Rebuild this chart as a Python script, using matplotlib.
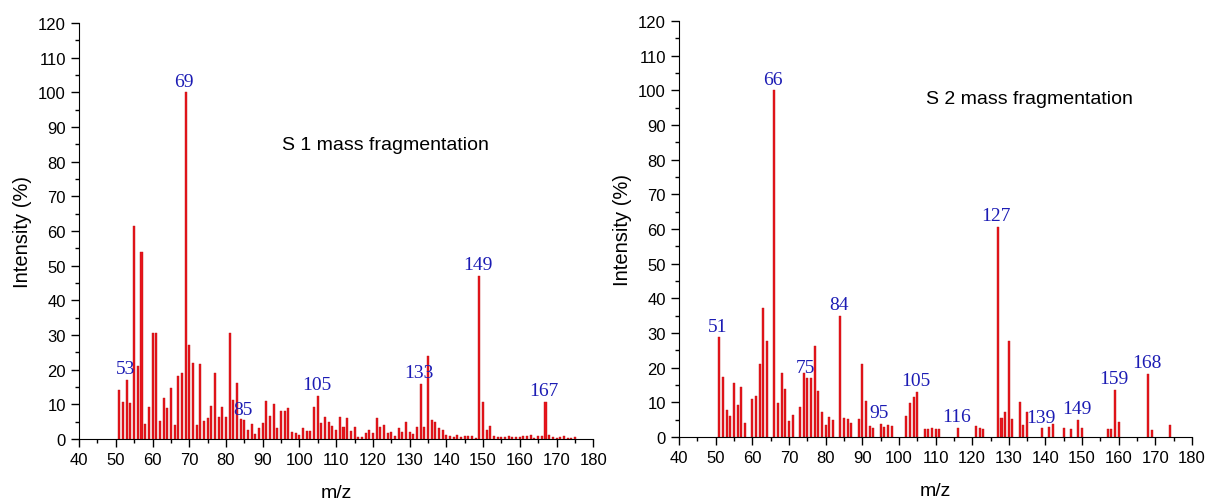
import numpy as np
import matplotlib
matplotlib.use('Agg')
import matplotlib.pyplot as plt
from matplotlib.ticker import MultipleLocator

# S 1 spectrum: m/z 51..175, relative intensity (%)
s1_mz = list(range(51, 176))
s1_int = [14.1, 10.6, 17.0, 10.5, 61.5, 21.2, 54.0, 4.4, 9.1, 30.6,
          30.6, 5.1, 11.9, 8.9, 14.6, 3.9, 18.3, 18.9, 100.0, 27.2,
          21.9, 4.0, 21.5, 5.1, 6.0, 9.4, 19.0, 6.4, 9.1, 6.4,
          30.5, 11.2, 16.2, 5.8, 5.4, 2.5, 4.2, 1.5, 3.1, 4.5,
          11.0, 6.7, 10.2, 3.3, 8.0, 8.0, 8.8, 1.9, 1.7, 1.2,
          3.1, 2.2, 2.2, 9.1, 12.5, 4.5, 6.3, 5.0, 3.7, 2.7,
          6.3, 3.6, 6.1, 2.2, 3.6, 0.6, 0.7, 1.7, 2.5, 1.8,
          6.2, 3.5, 4.0, 1.6, 2.0, 1.0, 3.2, 2.1, 4.8, 1.9,
          1.3, 3.4, 15.9, 3.4, 24.0, 5.6, 4.8, 3.2, 2.6, 1.2,
          0.8, 0.7, 1.2, 0.5, 0.8, 1.0, 0.8, 0.2, 47.0, 10.8,
          2.6, 3.7, 0.8, 0.5, 0.5, 0.5, 1.0, 0.5, 0.5, 0.7,
          0.8, 0.9, 1.2, 0.2, 1.0, 0.8, 10.8, 1.2, 0.5, 0.2,
          0.5, 0.8, 0.4, 0.2, 0.5]
s1_labels = [53, 69, 85, 105, 133, 149, 167]

# S 2 spectrum
s2_mz = [51, 52, 53, 54, 55, 56, 57, 58, 60, 61, 62, 63, 64, 66, 67, 68, 69, 70, 71,
         73, 74, 75, 76, 77, 78, 79, 80, 81, 82, 84, 85, 86, 87, 89, 90, 91, 92, 93,
         95, 96, 97, 98, 102, 103, 104, 105, 107, 108, 109, 110, 111, 116, 121, 122,
         123, 127, 128, 129, 130, 131, 133, 134, 135, 139, 141, 142, 145, 147, 149,
         150, 157, 158, 159, 160, 168, 169, 174]
s2_int = [28.7, 17.2, 7.9, 6.2, 15.5, 9.2, 14.4, 3.9, 10.9, 11.8, 21.0, 37.3, 27.8,
          100.0, 9.7, 18.5, 13.8, 4.5, 6.4, 8.7, 18.4, 16.9, 17.1, 26.3, 13.2, 7.1,
          3.4, 5.8, 4.9, 35.0, 5.4, 5.2, 4.1, 5.1, 21.0, 10.3, 3.1, 2.5, 3.8, 3.0,
          3.4, 3.2, 6.0, 9.7, 11.6, 12.9, 2.2, 2.2, 2.5, 2.2, 2.2, 2.6, 3.2, 2.7,
          2.3, 60.5, 5.5, 7.2, 27.8, 5.2, 10.0, 3.4, 7.3, 2.5, 3.0, 3.8, 2.5, 2.3,
          4.9, 2.5, 2.2, 2.3, 13.7, 4.3, 18.1, 2.1, 3.4]
s2_labels = [51, 66, 75, 84, 95, 105, 116, 127, 139, 149, 159, 168]

plt.rcParams['font.family'] = ['Liberation Sans', 'DejaVu Sans']

fig = plt.figure(figsize=(12.07, 5.02), dpi=100)
ax1 = fig.add_axes([0.0655, 0.1235, 0.426, 0.8287])
ax2 = fig.add_axes([0.5626, 0.1275, 0.4250, 0.8287])


def draw_spectrum(ax, mz, inten, labels, title, title_xy):
    ax.bar(mz, inten, width=0.55, color='#e8141c', edgecolor='#c01212', linewidth=0.3)
    lookup = dict(zip(mz, inten))
    for m in labels:
        ax.annotate(str(m), (m, lookup[m]), xytext=(-1, 2), textcoords='offset points',
                    ha='center', va='bottom', color='#1c1cb4', fontsize=14,
                    family='Liberation Serif')
    ax.text(title_xy[0], title_xy[1], title, ha='center', va='center', fontsize=14)
    ax.set_xlim(40, 180)
    ax.set_ylim(0, 120)
    ax.xaxis.set_major_locator(MultipleLocator(10))
    ax.xaxis.set_minor_locator(MultipleLocator(5))
    ax.yaxis.set_major_locator(MultipleLocator(10))
    ax.yaxis.set_minor_locator(MultipleLocator(5))
    ax.tick_params(which='major', direction='out', length=6, width=1, labelsize=12)
    ax.tick_params(which='minor', direction='out', length=3, width=1)
    for s in ['top', 'right']:
        ax.spines[s].set_visible(False)
    ax.set_xlabel('m/z', fontsize=14, labelpad=12)
    ax.set_ylabel('Intensity (%)', fontsize=14.5)


draw_spectrum(ax1, s1_mz, s1_int, s1_labels, 'S 1 mass fragmentation', (123.5, 85))
draw_spectrum(ax2, s2_mz, s2_int, s2_labels, 'S 2 mass fragmentation', (135.5, 97.5))

fig.savefig('out.png', dpi=100)
